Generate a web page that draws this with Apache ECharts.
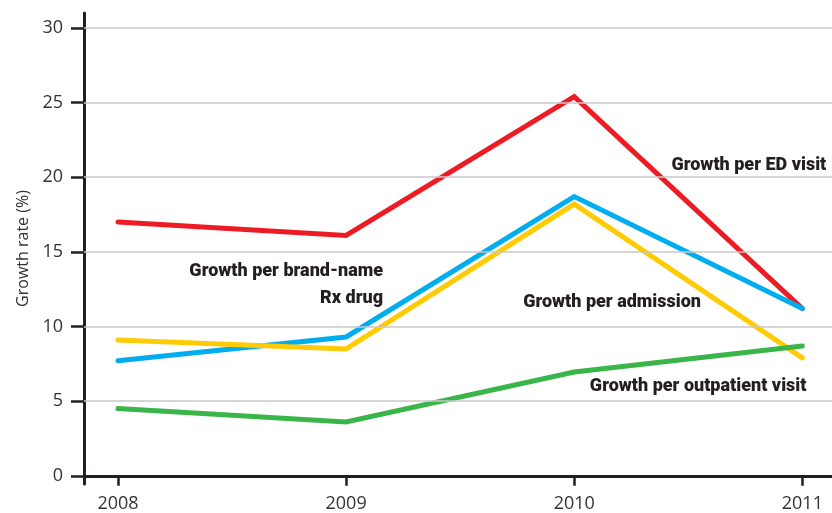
<!DOCTYPE html>
<html>
<head>
<meta charset="utf-8">
<script src="https://cdn.jsdelivr.net/npm/echarts@6/dist/echarts.min.js"></script>
<style>
  html, body { margin: 0; padding: 0; background: #fff; }
  #chart { width: 832px; height: 513px; }
</style>
</head>
<body>
<div id="chart"></div>
<script>
// Years on the horizontal axis
const years = [2008, 2009, 2010, 2011];

// Annual growth rates (%)
const edVisit = [17.0, 16.1, 25.4, 11.2];
const brandRx = [7.7, 9.3, 18.7, 11.2];
const admission = [9.1, 8.5, 18.2, 7.9];
const outpatient = [4.5, 3.6, 6.95, 8.7];

// Value-axis tick labels
const yTicks = [0, 5, 10, 15, 20, 25, 30];
const gridValues = [5, 10, 15, 20, 25, 30];

const seriesNames = ['Growth per ED visit', 'Growth per brand-name Rx drug', 'Growth per admission', 'Growth per outpatient visit'];
const seriesColors = ['#ed1c24', '#00aeef', '#ffcb05', '#39b54a'];
const seriesData = [edVisit, brandRx, admission, outpatient];

// Inline annotations, anchored in data space (year, %)
const notes = [
  { lines: ['Growth per ED visit'], year: 2011.105, value: 20.76, align: 'right' },
  { lines: ['Growth per brand-name', 'Rx drug'], year: 2009.162, value: 12.77, align: 'right' },
  { lines: ['Growth per admission'], year: 2009.776, value: 11.58, align: 'left' },
  { lines: ['Growth per outpatient visit'], year: 2011.018, value: 5.96, align: 'right' }
];

const ink = '#231f20';
const chart = echarts.init(document.getElementById('chart'), null, { renderer: 'canvas' });

const lineSeries = seriesData.map((vals, i) => ({
  name: seriesNames[i],
  type: 'line',
  data: years.map((y, j) => [y, vals[j]]),
  symbol: 'none',
  z: 3,
  lineStyle: { color: seriesColors[i], width: 5, cap: 'round', join: 'miter' }
}));

// horizontal gridlines
lineSeries.unshift({
  type: 'line',
  data: [],
  z: 1,
  silent: true,
  markLine: {
    silent: true,
    symbol: 'none',
    label: { show: false },
    animation: false,
    lineStyle: { color: '#c8c8c8', width: 1.5, type: 'solid' },
    data: gridValues.map(v => ({ yAxis: v }))
  }
});

chart.setOption({
  animation: false,
  backgroundColor: '#ffffff',
  grid: { left: 84, right: 0, top: 13, bottom: 29, containLabel: false, outerBoundsMode: 'none' },
  xAxis: {
    type: 'value',
    min: 2007.851,
    max: 2011.13,
    axisLine: { onZero: true, lineStyle: { color: ink, width: 3 } },
    axisTick: { show: true, length: 10, customValues: years, lineStyle: { color: ink, width: 2.5 } },
    axisLabel: {
      customValues: years,
      formatter: v => String(v),
      color: '#333', fontFamily: 'Open Sans', fontSize: 18, margin: 11
    },
    splitLine: { show: false }
  },
  yAxis: {
    type: 'value',
    min: -0.55,
    max: 31,
    name: 'Growth rate (%)',
    nameLocation: 'middle',
    nameGap: 51,
    nameTextStyle: { color: '#333', fontFamily: 'Open Sans', fontSize: 16 },
    axisLine: { show: true, lineStyle: { color: ink, width: 3 } },
    axisTick: { show: true, length: 13, customValues: yTicks, lineStyle: { color: ink, width: 2.5 } },
    axisLabel: {
      customValues: yTicks,
      color: '#333', fontFamily: 'Open Sans', fontSize: 18, margin: 21
    },
    splitLine: { show: false }
  },
  series: lineSeries
});

// place the annotation texts from data coordinates
const graphics = [];
notes.forEach(n => {
  const p = chart.convertToPixel({ gridIndex: 0 }, [n.year, n.value]);
  graphics.push({
    type: 'text',
    x: p[0],
    y: p[1],
    z: 10,
    style: {
      text: n.lines.join('\n'),
      fill: ink,
      font: '900 18px Roboto',
      align: n.align,
      verticalAlign: 'middle',
      lineHeight: 27
    }
  });
});
chart.setOption({ graphic: graphics });
</script>
</body>
</html>
